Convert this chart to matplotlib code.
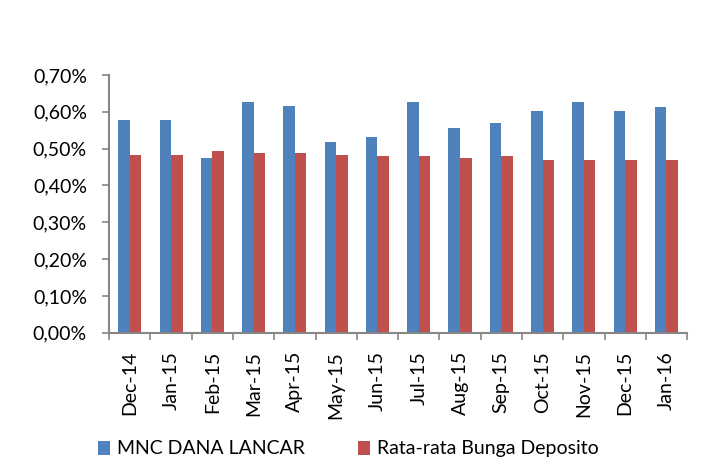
import numpy as np
import matplotlib
matplotlib.use("Agg")
from matplotlib import pyplot as plt
from matplotlib.ticker import FuncFormatter, FixedLocator

months = ["Dec-14", "Jan-15", "Feb-15", "Mar-15", "Apr-15", "May-15", "Jun-15",
          "Jul-15", "Aug-15", "Sep-15", "Oct-15", "Nov-15", "Dec-15", "Jan-16"]
mnc_dana_lancar = [0.578, 0.578, 0.475, 0.627, 0.616, 0.518, 0.532,
                   0.627, 0.556, 0.570, 0.602, 0.627, 0.602, 0.613]
bunga_deposito = [0.483, 0.483, 0.494, 0.488, 0.488, 0.483, 0.480,
                  0.480, 0.475, 0.480, 0.469, 0.469, 0.469, 0.469]

plt.rcParams["font.family"] = ["Lato", "DejaVu Sans"]

fig = plt.figure(figsize=(7.18, 4.72), dpi=100)
ax = fig.add_axes([0.152, 0.295, 0.805, 0.546])

x = np.arange(len(months))
width = 0.28
ax.bar(x - width / 2, mnc_dana_lancar, width, color="#4f81bd", label="MNC DANA LANCAR")
ax.bar(x + width / 2, bunga_deposito, width, color="#c0504d", label="Rata-rata Bunga Deposito")

ax.set_xlim(-0.5, len(months) - 0.5)
ax.set_ylim(0, 0.70)
ax.set_yticks(np.arange(0, 0.701, 0.10))
ax.yaxis.set_major_formatter(FuncFormatter(lambda v, p: f"{v:.2f}%".replace(".", ",")))

# month labels in the middle, tick marks on the boundaries
ax.set_xticks(x)
ax.set_xticklabels(months, rotation=90, fontsize=14)
ax.tick_params(axis="x", which="major", length=0, pad=13)
ax.xaxis.set_minor_locator(FixedLocator(np.arange(-0.5, len(months), 1.0)))
ax.tick_params(axis="x", which="minor", length=5, width=1.2, color="#868686")
ax.tick_params(axis="y", length=5, width=1.2, color="#868686", labelsize=14, pad=11)

for side in ["top", "right"]:
    ax.spines[side].set_visible(False)
for side in ["left", "bottom"]:
    ax.spines[side].set_color("#868686")
    ax.spines[side].set_linewidth(1.5)

fig.legend(loc="center", bbox_to_anchor=(0.485, 0.049), ncol=2, frameon=False,
           fontsize=14, handlelength=0.65, handleheight=0.72, handletextpad=0.35,
           columnspacing=2.7, borderpad=0)

fig.savefig("out.png", dpi=100)
